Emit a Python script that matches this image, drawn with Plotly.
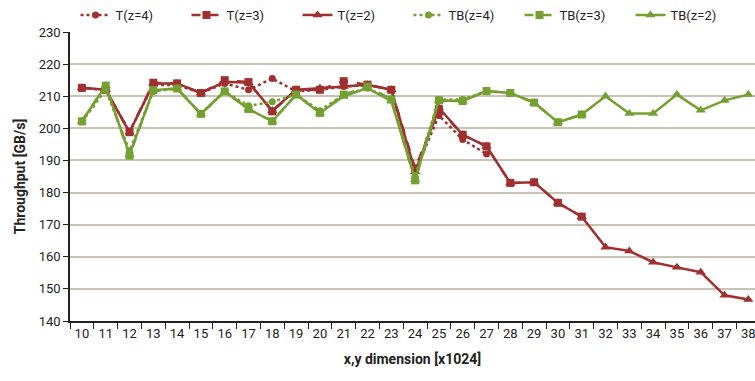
import plotly.graph_objects as go

x_all = list(range(10, 39))

t_z4 = [212.5, 212, 199, 213.5, 213.5, 211, 214, 212, 215.5, 211.5, 212, 213, 213.5, 212, 186.5, 204, 196.5, 192]
t_z3 = [212.6, 212, 198.8, 214.2, 214, 211, 215, 214.4, 205.3, 212, 212, 214.7, 213.6, 212, 187.5, 206, 198, 194.4, 183, 183.2, 176.8, 172.5]
t_z2 = [212.6, 212, 198.8, 214, 214, 211, 214.5, 214.2, 205.5, 212, 212.5, 213, 213.6, 212, 186.5, 206.4, 198, 194.4, 183, 183.2, 176.8, 172.5,
        163, 161.8, 158.3, 156.7, 155.2, 148, 146.7]

tb_z4 = [202, 212, 193, 211.5, 212.4, 204.5, 211.5, 207, 208.3, 210.5, 205.5, 210.5, 212.5, 209, 185, 209, 209, 211.6]
tb_z3 = [202.2, 213.3, 191.5, 211.9, 212.4, 204.5, 211.5, 206, 202.2, 210.5, 204.8, 210.5, 213, 209, 183.8, 208.7, 208.5, 211.6, 211, 208, 201.9, 204.3]
tb_z2 = [202.2, 213.3, 191.8, 211.9, 212.4, 204.5, 211.5, 206, 202.2, 210.5, 204.8, 210, 212.5, 208.5, 184, 208.7, 208.5, 211.6, 211, 208, 201.9, 204.3,
         210, 204.6, 204.6, 210.5, 205.6, 208.7, 210.5]

y_ticks = [140, 150, 160, 170, 180, 190, 200, 210, 220, 230]

RED = "#a0302f"
GREEN = "#74a032"
FONT = "Roboto, Arial, sans-serif"

series = [
    ("T(z=2)", t_z2, RED, "solid", "triangle-up", 9, 3),
    ("T(z=3)", t_z3, RED, "dash", "square", 8, 2),
    ("T(z=4)", t_z4, RED, "dot", "circle", 7, 1),
    ("TB(z=2)", tb_z2, GREEN, "solid", "triangle-up", 9, 6),
    ("TB(z=3)", tb_z3, GREEN, "dash", "square", 8, 5),
    ("TB(z=4)", tb_z4, GREEN, "dot", "circle", 7, 4),
]

fig = go.Figure()
for name, vals, color, dash, sym, msize, rank in series:
    fig.add_trace(go.Scatter(
        x=x_all[:len(vals)], y=vals, name=name, mode="lines+markers",
        line=dict(color=color, width=2.5, dash=dash),
        marker=dict(symbol=sym, size=msize, color=color),
        legendrank=rank,
    ))

# last category label, partly cut off by the page edge as in the reference
fig.add_annotation(x=x_all[-1], xref="x", y=0, yref="paper", yanchor="top",
                   yshift=-3, text=str(x_all[-1]), showarrow=False,
                   font=dict(size=13, family=FONT, color="#222"))

fig.update_layout(
    width=755, height=381,
    margin=dict(l=70, r=0, t=32, b=60, autoexpand=False),
    paper_bgcolor="white", plot_bgcolor="white",
    font=dict(family=FONT, size=13, color="#222"),
    showlegend=True,
    legend=dict(orientation="h", xref="container", yref="container",
                x=0.1, xanchor="left", y=1.0, yanchor="top",
                entrywidth=66, entrywidthmode="pixels",
                font=dict(size=13, family=FONT), bgcolor="rgba(0,0,0,0)",
                traceorder="normal"),
    xaxis=dict(
        range=[9.5, 38.28], tickmode="array", tickvals=x_all,
        ticktext=[str(v) for v in x_all], ticks="", showgrid=False,
        showline=True, linecolor="#222", linewidth=1.5,
        tickfont=dict(size=13, family=FONT),
        minor=dict(ticks="outside", tick0=9.5, dtick=1, ticklen=6, tickcolor="#222", showgrid=False),
        title=dict(text="<b>x,y dimension [x1024]</b>", font=dict(size=14, family=FONT), standoff=14),
        zeroline=False,
    ),
    yaxis=dict(
        range=[140, 230], tickmode="array", tickvals=y_ticks,
        ticks="outside", ticklen=5, tickcolor="#222",
        showgrid=True, gridcolor="#c9c3b6", gridwidth=1.5,
        showline=True, linecolor="#222", linewidth=1.5,
        tickfont=dict(size=13, family=FONT),
        title=dict(text="<b>Throughput [GB/s]</b>", font=dict(size=14, family=FONT), standoff=10),
        zeroline=False,
    ),
)

fig.write_html("out.html")
